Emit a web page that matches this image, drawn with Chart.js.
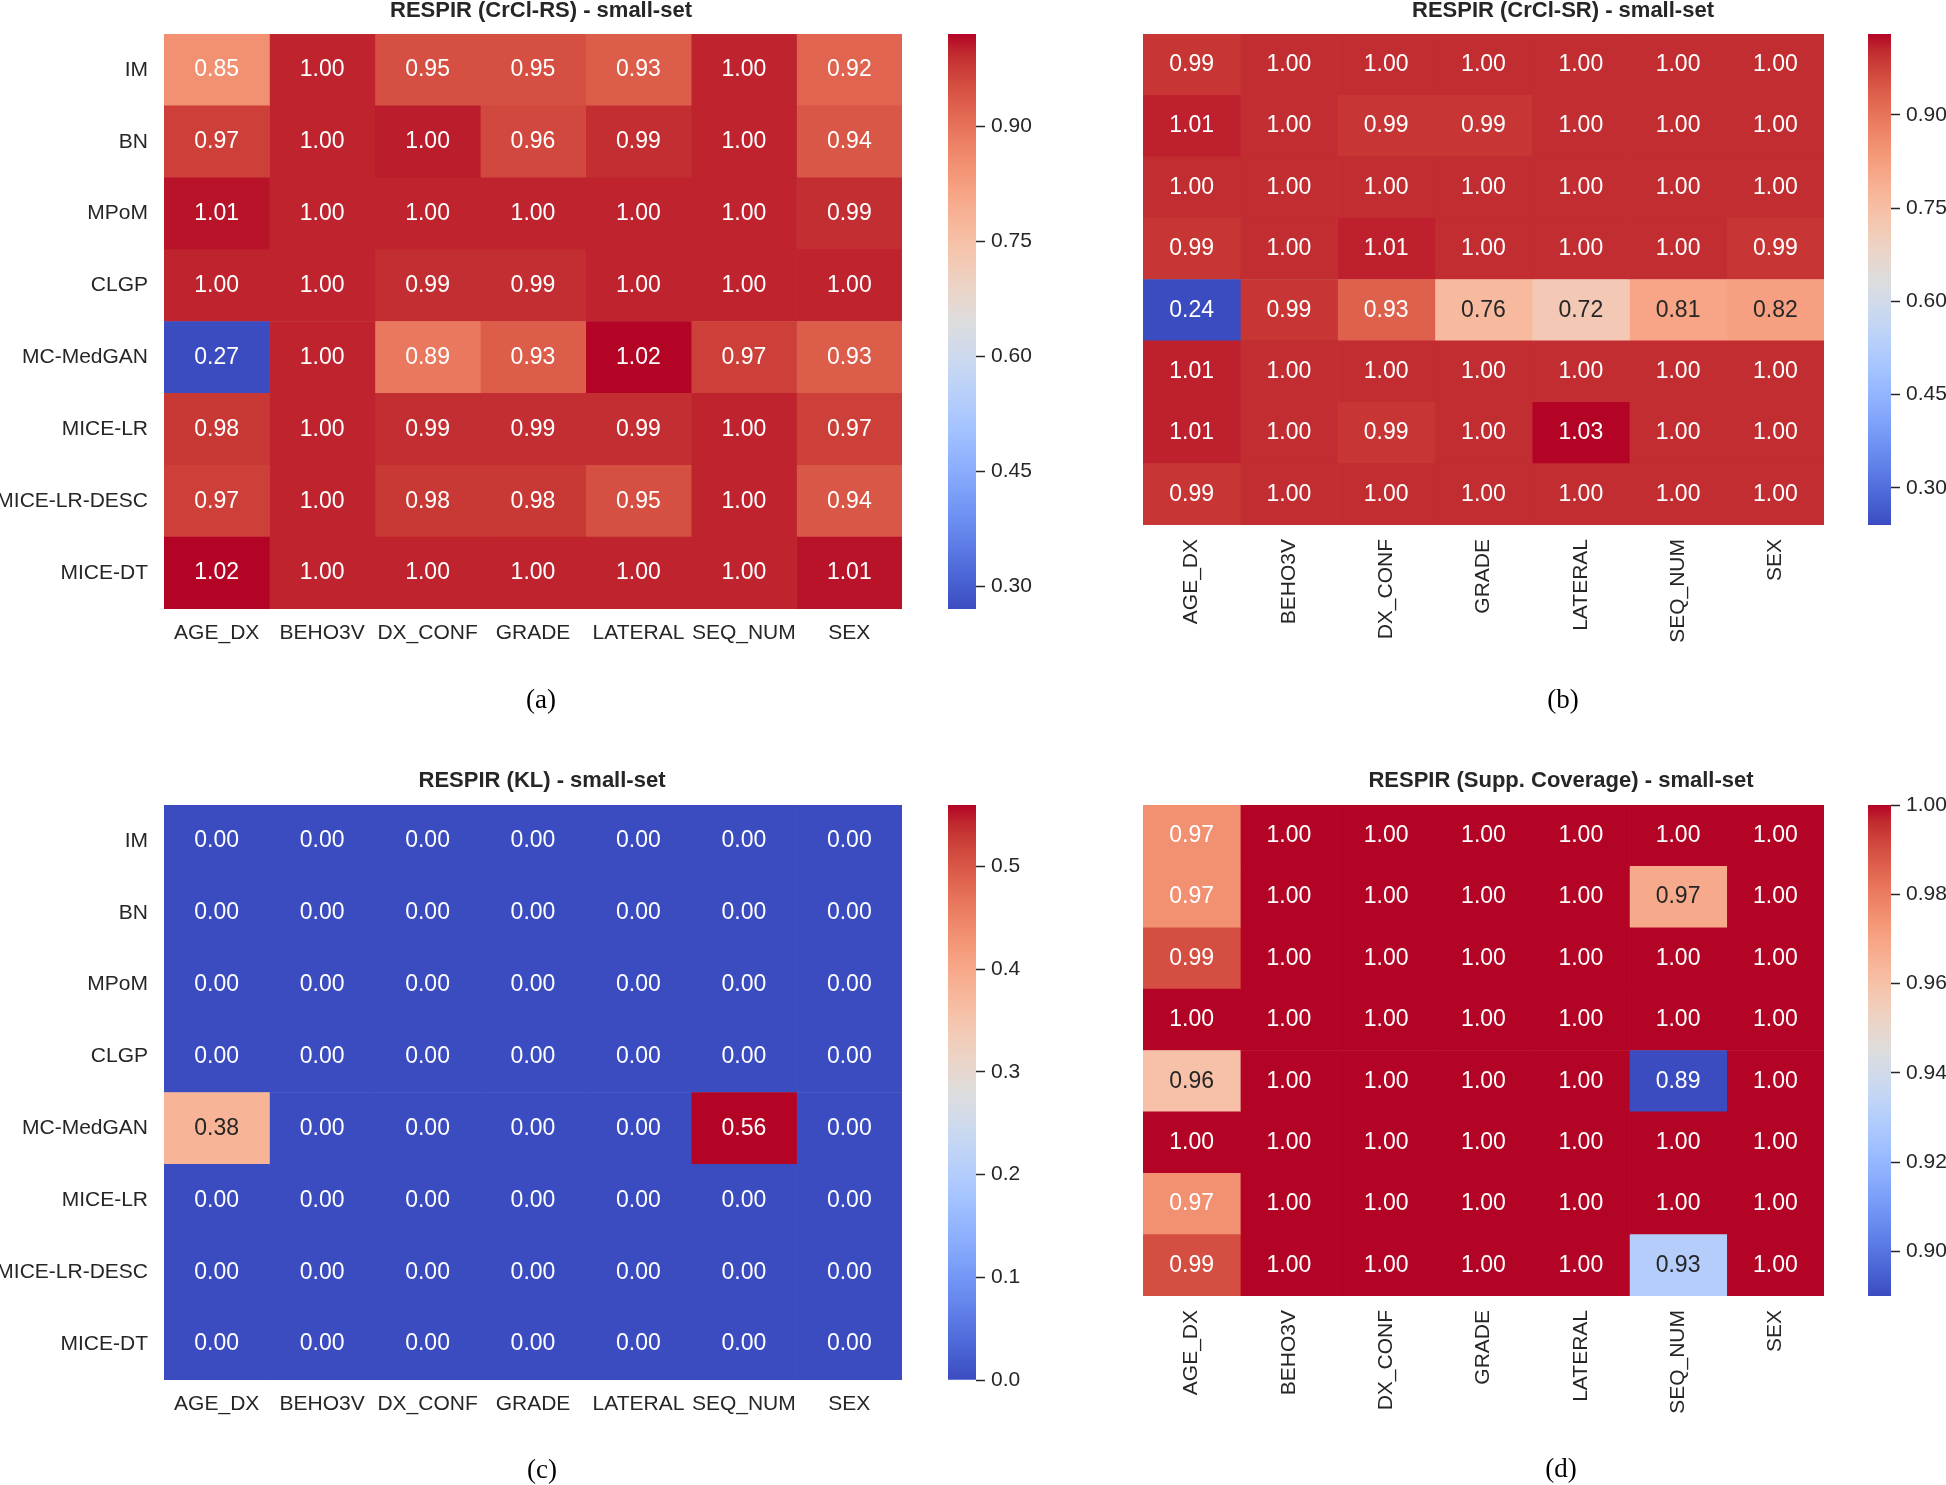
<!DOCTYPE html>
<html>
<head>
<meta charset="utf-8">
<script src="https://cdn.jsdelivr.net/npm/chart.js@4.4.0/dist/chart.umd.min.js"></script>
<style>
  body { margin: 0; background: #fff; }
  #fig { position: relative; width: 1946px; height: 1485px; overflow: hidden; background: #fff; }
  canvas { position: absolute; }
  .ttl { position: absolute; font-family: "Liberation Sans", Arial, sans-serif; font-weight: bold; font-size: 22px; color: #262626; transform: translate(-50%, -50%); white-space: nowrap; }
  .cap { position: absolute; font-family: "Liberation Serif", serif; font-size: 27px; color: #000; transform: translate(-50%, -50%); }
</style>
</head>
<body>
<div id="fig">
  <canvas id="hmA" width="940" height="740" style="left:0;top:0"></canvas>
  <canvas id="hmB" width="870" height="740" style="left:980px;top:0"></canvas>
  <canvas id="hmC" width="940" height="745" style="left:0;top:740px"></canvas>
  <canvas id="hmD" width="870" height="745" style="left:980px;top:740px"></canvas>
  <canvas id="cbA" width="130" height="740" style="left:930px;top:0"></canvas>
  <canvas id="cbB" width="96" height="740" style="left:1850px;top:0"></canvas>
  <canvas id="cbC" width="130" height="745" style="left:930px;top:740px"></canvas>
  <canvas id="cbD" width="96" height="745" style="left:1850px;top:740px"></canvas>

  <div class="ttl" style="left:541px;top:10px">RESPIR (CrCl-RS) - small-set</div>
  <div class="ttl" style="left:1563px;top:10px">RESPIR (CrCl-SR) - small-set</div>
  <div class="ttl" style="left:542px;top:780px">RESPIR (KL) - small-set</div>
  <div class="ttl" style="left:1561px;top:780px">RESPIR (Supp. Coverage) - small-set</div>

  <div class="cap" style="left:541px;top:699px">(a)</div>
  <div class="cap" style="left:1563px;top:699px">(b)</div>
  <div class="cap" style="left:542px;top:1469px">(c)</div>
  <div class="cap" style="left:1561px;top:1468px">(d)</div>
</div>
<script>
// 行 / 列
const rowLabels = ['IM', 'BN', 'MPoM', 'CLGP', 'MC-MedGAN', 'MICE-LR', 'MICE-LR-DESC', 'MICE-DT'];
const colLabels = ['AGE_DX', 'BEHO3V', 'DX_CONF', 'GRADE', 'LATERAL', 'SEQ_NUM', 'SEX'];

// (a) CrCl-RS
const crclRS = [
    [0.85, 1.00, 0.95, 0.95, 0.93, 1.00, 0.92],
    [0.97, 1.00, 1.004, 0.96, 0.99, 1.00, 0.94],
    [1.01, 1.00, 1.00, 1.00, 1.00, 1.00, 0.99],
    [1.00, 1.00, 0.99, 0.99, 1.00, 1.00, 1.00],
    [0.27, 1.00, 0.89, 0.93, 1.02, 0.97, 0.93],
    [0.98, 1.00, 0.99, 0.99, 0.99, 1.00, 0.97],
    [0.97, 1.00, 0.98, 0.98, 0.95, 1.00, 0.94],
    [1.02, 1.00, 1.00, 1.00, 1.00, 1.00, 1.01]
];
// (b) CrCl-SR
const crclSR = [
    [0.99, 1.00, 1.00, 1.00, 1.00, 1.00, 1.00],
    [1.01, 1.00, 0.99, 0.99, 1.00, 1.00, 1.00],
    [1.00, 1.00, 1.00, 1.00, 1.00, 1.00, 1.00],
    [0.99, 1.00, 1.01, 1.00, 1.00, 1.00, 0.99],
    [0.24, 0.99, 0.93, 0.76, 0.72, 0.81, 0.82],
    [1.01, 1.00, 1.00, 1.00, 1.00, 1.00, 1.00],
    [1.01, 1.00, 0.99, 1.00, 1.03, 1.00, 1.00],
    [0.99, 1.00, 1.00, 1.00, 1.00, 1.00, 1.00]
];
// (c) KL
const klDiv = [
    [0.00, 0.00, 0.00, 0.00, 0.00, 0.00, 0.00],
    [0.00, 0.00, 0.00, 0.00, 0.00, 0.00, 0.00],
    [0.00, 0.00, 0.00, 0.00, 0.00, 0.00, 0.00],
    [0.00, 0.00, 0.00, 0.00, 0.00, 0.00, 0.00],
    [0.38, 0.00, 0.00, 0.00, 0.00, 0.56, 0.00],
    [0.00, 0.00, 0.00, 0.00, 0.00, 0.00, 0.00],
    [0.00, 0.00, 0.00, 0.00, 0.00, 0.00, 0.00],
    [0.00, 0.00, 0.00, 0.00, 0.00, 0.00, 0.00]
];
// (d) Supp. Coverage
const suppCoverage = [
    [0.975, 1.00, 1.00, 1.00, 1.00, 1.00, 1.00],
    [0.975, 1.00, 1.00, 1.00, 1.00, 0.968, 1.00],
    [0.99, 1.00, 1.00, 1.00, 1.00, 1.00, 1.00],
    [1.00, 1.00, 1.00, 1.00, 1.00, 1.00, 1.00],
    [0.96, 1.00, 1.00, 1.00, 1.00, 0.89, 1.00],
    [1.00, 1.00, 1.00, 1.00, 1.00, 1.00, 1.00],
    [0.975, 1.00, 1.00, 1.00, 1.00, 1.00, 1.00],
    [0.99, 1.00, 1.00, 1.00, 1.00, 0.93, 1.00]
];

// colorbar 刻度
const ticksRS = [0.30, 0.45, 0.60, 0.75, 0.90];
const ticksSR = [0.30, 0.45, 0.60, 0.75, 0.90];
const ticksKL = [0.0, 0.1, 0.2, 0.3, 0.4, 0.5];
const ticksSupp = [0.90, 0.92, 0.94, 0.96, 0.98, 1.00];

// coolwarm (Moreland 33 點)
const coolwarm = [
    [59, 76, 192], [68, 90, 204], [77, 104, 215], [87, 117, 225], [98, 130, 234], [108, 142, 241],
    [119, 154, 247], [130, 165, 251], [141, 176, 254], [152, 185, 255], [163, 194, 255], [174, 201, 253],
    [184, 208, 249], [194, 213, 244], [204, 217, 238], [213, 219, 230], [221, 221, 221], [229, 216, 209],
    [236, 211, 197], [241, 204, 185], [245, 196, 173], [247, 187, 160], [247, 177, 148], [247, 166, 135],
    [244, 154, 123], [241, 141, 111], [236, 127, 99], [229, 112, 88], [222, 96, 77], [213, 80, 66],
    [203, 62, 56], [192, 40, 47], [180, 4, 38]
];

const FONT = '"Liberation Sans", Arial, sans-serif';
const TEXT = '#262626';
Chart.defaults.font.family = FONT;

function cmap(t) {
    t = Math.min(1, Math.max(0, t));
    const p = t * (coolwarm.length - 1);
    const i = Math.min(Math.floor(p), coolwarm.length - 2);
    const f = p - i;
    const a = coolwarm[i], b = coolwarm[i + 1];
    return a.map((v, k) => Math.round(v + (b[k] - v) * f));
}
const rgb = c => `rgb(${c[0]},${c[1]},${c[2]})`;
function luminance(c) {
    const l = c.map(v => {
        v /= 255;
        return v <= 0.03928 ? v / 12.92 : Math.pow((v + 0.055) / 1.055, 2.4);
    });
    return 0.2126 * l[0] + 0.7152 * l[1] + 0.0722 * l[2];
}

function heatmap(id, values, area, showRows, rotate) {
    const canvas = document.getElementById(id);
    const cx = canvas.offsetLeft, cy = canvas.offsetTop;
    const flat = values.flat();
    const vmin = Math.min(...flat), vmax = Math.max(...flat);
    const color = v => cmap((v - vmin) / (vmax - vmin));
    const xAxisH = 150;

    const datasets = colLabels.map((col, j) => ({
        label: col,
        data: rowLabels.map(() => 1),
        backgroundColor: values.map(r => rgb(color(r[j]))),
        borderWidth: 0,
        barPercentage: 1,
        categoryPercentage: 1
    }));

    // 格子裡的數字
    const annotate = {
        id: 'annotate',
        afterDatasetsDraw(chart) {
            const ctx = chart.ctx;
            ctx.save();
            ctx.font = '23px ' + FONT;
            ctx.textAlign = 'center';
            ctx.textBaseline = 'middle';
            chart.data.datasets.forEach((ds, j) => {
                chart.getDatasetMeta(j).data.forEach((bar, i) => {
                    const v = values[i][j];
                    ctx.fillStyle = luminance(color(v)) > 0.408 ? TEXT : '#ffffff';
                    ctx.fillText(v.toFixed(2), (bar.x + bar.base) / 2, bar.y);
                });
            });
            ctx.restore();
        }
    };

    new Chart(canvas, {
        type: 'bar',
        data: { labels: rowLabels, datasets },
        options: {
            indexAxis: 'y',
            responsive: false,
            animation: false,
            layout: {
                padding: {
                    left: 0,
                    top: area.top - cy,
                    right: cx + canvas.width - area.right,
                    bottom: cy + canvas.height - area.bottom - xAxisH
                }
            },
            plugins: { legend: { display: false }, tooltip: { enabled: false } },
            scales: {
                x: {
                    type: 'linear', stacked: true, min: 0, max: colLabels.length,
                    grid: { display: false, drawTicks: false },
                    border: { display: false },
                    afterBuildTicks: s => { s.ticks = colLabels.map((_, i) => ({ value: i + 0.5 })); },
                    afterFit: s => { s.height = xAxisH; },
                    ticks: {
                        autoSkip: false,
                        maxRotation: rotate ? 90 : 0,
                        minRotation: rotate ? 90 : 0,
                        padding: rotate ? 14 : 12,
                        color: TEXT,
                        font: { size: 21 },
                        callback: (v, i) => colLabels[i]
                    }
                },
                y: {
                    stacked: true,
                    grid: { display: false, drawTicks: false },
                    border: { display: false },
                    afterFit: s => { s.width = area.left - cx; },
                    ticks: { display: showRows, padding: 16, color: TEXT, font: { size: 21 } }
                }
            }
        },
        plugins: [annotate]
    });
}

function colorbar(id, values, tickVals, decimals, area) {
    const canvas = document.getElementById(id);
    const cx = canvas.offsetLeft, cy = canvas.offsetTop;
    const flat = values.flat();
    const vmin = Math.min(...flat), vmax = Math.max(...flat);

    const gradient = c => {
        const chart = c.chart;
        if (!chart.chartArea) return rgb(cmap(0.5));
        const y = chart.scales.y;
        const g = chart.ctx.createLinearGradient(0, y.getPixelForValue(vmin), 0, y.getPixelForValue(vmax));
        coolwarm.forEach((col, k) => g.addColorStop(k / (coolwarm.length - 1), rgb(col)));
        return g;
    };

    new Chart(canvas, {
        type: 'bar',
        data: {
            labels: [''],
            datasets: [{ data: [[vmin, vmax]], backgroundColor: gradient, borderWidth: 0, barPercentage: 1, categoryPercentage: 1 }]
        },
        options: {
            responsive: false,
            animation: false,
            layout: {
                padding: { left: area.left - cx, top: area.top - cy, right: 0, bottom: cy + canvas.height - area.bottom }
            },
            plugins: { legend: { display: false }, tooltip: { enabled: false } },
            scales: {
                x: { display: false },
                y: {
                    position: 'right', min: vmin, max: vmax,
                    grid: { display: true, drawOnChartArea: false, drawTicks: true, tickLength: 9, tickWidth: 1.5, tickColor: TEXT },
                    border: { display: false },
                    afterBuildTicks: s => { s.ticks = tickVals.map(v => ({ value: v })); },
                    afterFit: s => { s.width = cx + canvas.width - area.right; },
                    ticks: {
                        autoSkip: false, padding: 6, color: TEXT, font: { size: 21 },
                        callback: v => v.toFixed(decimals)
                    }
                }
            }
        }
    });
}

heatmap('hmA', crclRS, { left: 164, top: 34, right: 902, bottom: 609 }, true, false);
heatmap('hmB', crclSR, { left: 1143, top: 34, right: 1824, bottom: 525 }, false, true);
heatmap('hmC', klDiv, { left: 164, top: 805, right: 902, bottom: 1380 }, true, false);
heatmap('hmD', suppCoverage, { left: 1143, top: 805, right: 1824, bottom: 1296 }, false, true);

colorbar('cbA', crclRS, ticksRS, 2, { left: 948, top: 34, right: 976, bottom: 609 });
colorbar('cbB', crclSR, ticksSR, 2, { left: 1868, top: 34, right: 1891, bottom: 525 });
colorbar('cbC', klDiv, ticksKL, 1, { left: 948, top: 805, right: 976, bottom: 1380 });
colorbar('cbD', suppCoverage, ticksSupp, 2, { left: 1868, top: 805, right: 1891, bottom: 1296 });
</script>
</body>
</html>
